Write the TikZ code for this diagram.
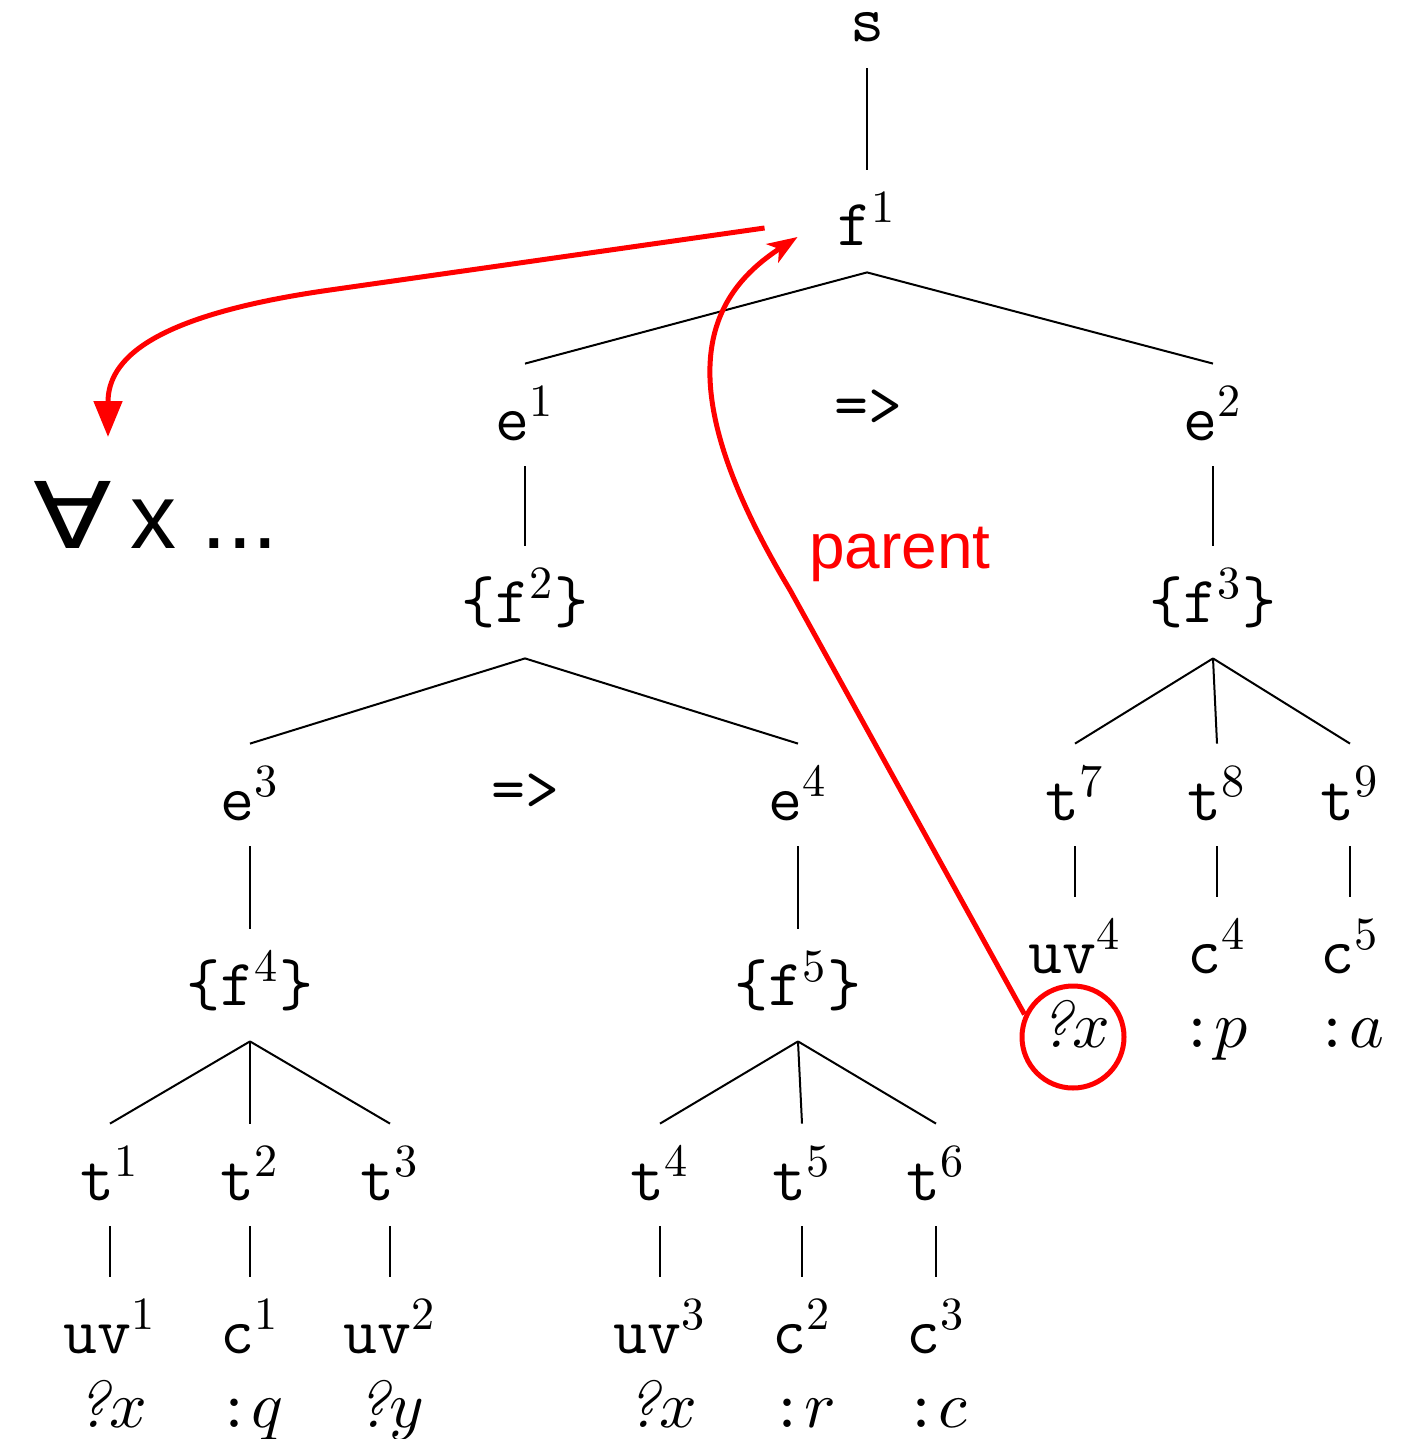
\documentclass[tikz,border=0pt]{standalone}
\usepackage{fontspec}
\usepackage{unicode-math}
\newfontfamily\sansA{Liberation Sans}
\newfontfamily\dvs{DejaVu Sans}
\usetikzlibrary{arrows.meta,calc}
\newcommand\qm{{\rmfamily\itshape ?}}
\begin{document}
\begin{tikzpicture}[x=0.5pt,y=-0.5pt,
  tn/.style={inner sep=0pt, text height=38pt, text depth=13pt, anchor=base,
    font=\fontsize{33}{40}\selectfont\ttfamily},
  tb/.style={tn, text depth=18pt},
  lf/.style={inner sep=0pt, anchor=base, font=\fontsize{33}{40}\selectfont\ttfamily},
  edge/.style={line width=1pt, black},
  redl/.style={red, line width=2.5pt}]
\useasboundingbox (0,0) rectangle (1414,1439);

% level nodes
\node[tn, text height=16pt] (s)  at (867,42)  {s};
\node[tn] (f1) at (867,246) {f$^{1}$};
\node[tn] (e1) at (525,440) {e$^{1}$};
\node[tn] (e2) at (1213,440) {e$^{2}$};
\node[lf, anchor=center] (imp1) at (868,408) {=>};
\node[tb] (f2) at (525,622) {\{f$^{2}$\}};
\node[tb] (f3) at (1213,622) {\{f$^{3}$\}};
\node[tn] (e3) at (250,820) {e$^{3}$};
\node[tn] (e4) at (798,820) {e$^{4}$};
\node[lf, anchor=center] (imp2) at (525,792) {=>};
\node[tb] (f4) at (250,1005) {\{f$^{4}$\}};
\node[tb] (f5) at (798,1005) {\{f$^{5}$\}};

\node[tn] (t1) at (110,1200) {t$^{1}$};
\node[tn] (t2) at (250,1200) {t$^{2}$};
\node[tn] (t3) at (390,1200) {t$^{3}$};
\node[tn] (t4) at (660,1200) {t$^{4}$};
\node[tn] (t5) at (802,1200) {t$^{5}$};
\node[tn] (t6) at (936,1200) {t$^{6}$};
\node[tn] (t7) at (1075,820) {t$^{7}$};
\node[tn] (t8) at (1217,820) {t$^{8}$};
\node[tn] (t9) at (1350,820) {t$^{9}$};

\node[tn] (uv1) at (110,1353) {uv$^{1}$};
\node[tn] (c1)  at (250,1353) {c$^{1}$};
\node[tn] (uv2) at (390,1353) {uv$^{2}$};
\node[tn] (uv3) at (660,1353) {uv$^{3}$};
\node[tn] (c2)  at (802,1353) {c$^{2}$};
\node[tn] (c3)  at (936,1353) {c$^{3}$};
\node[tn] (uv4) at (1075,973) {uv$^{4}$};
\node[tn] (c4)  at (1217,973) {c$^{4}$};
\node[tn] (c5)  at (1350,973) {c$^{5}$};

\node[lf] (v1) at (112,1427) {\qm$x$};
\node[lf] (v2) at (250,1427) {:$q$};
\node[lf] (v3) at (390,1427) {\qm$y$};
\node[lf] (v4) at (662,1427) {\qm$x$};
\node[lf] (v5) at (803,1427) {:$r$};
\node[lf] (v6) at (937,1427) {:$c$};
\node[lf] (v7) at (1075,1047) {\qm$x$};
\node[lf] (v8) at (1215,1047) {:$p$};
\node[lf] (v9) at (1350,1047) {:$a$};

% tree edges
\draw[edge] (s.south) -- (f1.north);
\draw[edge] (e1.north) -- (f1.south) -- (e2.north);
\draw[edge] (e1.south) -- (f2.north);
\draw[edge] (e2.south) -- (f3.north);
\draw[edge] (e3.north) -- (f2.south) -- (e4.north);
\draw[edge] (e3.south) -- (f4.north);
\draw[edge] (e4.south) -- (f5.north);
\draw[edge] (f4.south) -- (t1.north);
\draw[edge] (f4.south) -- (t2.north);
\draw[edge] (f4.south) -- (t3.north);
\draw[edge] (f5.south) -- (t4.north);
\draw[edge] (f5.south) -- (t5.north);
\draw[edge] (f5.south) -- (t6.north);
\draw[edge] (f3.south) -- (t7.north);
\draw[edge] (f3.south) -- (t8.north);
\draw[edge] (f3.south) -- (t9.north);
\draw[edge] (t1.south) -- (uv1.north);
\draw[edge] (t2.south) -- (c1.north);
\draw[edge] (t3.south) -- (uv2.north);
\draw[edge] (t4.south) -- (uv3.north);
\draw[edge] (t5.south) -- (c2.north);
\draw[edge] (t6.south) -- (c3.north);
\draw[edge] (t7.south) -- (uv4.north);
\draw[edge] (t8.south) -- (c4.north);
\draw[edge] (t9.south) -- (c5.north);

% red annotations
\node[font=\fontsize{46}{50}\selectfont\sansA, anchor=base west, inner sep=0pt] (fa) at (33,548) {\scalebox{1.25}[1]{\dvs ∀}\hspace{9pt}x ...};
\node[circle, draw=red, line width=2.5pt, minimum size=51pt, inner sep=0pt] (circ) at (1073,1037) {};
\node[font=\fontsize{32}{36}\selectfont\sansA, text=red, anchor=base, inner sep=0pt] (par) at (900,568) {parent};

\coordinate (startA) at ($(f1.west)+(-73,7)$);
\coordinate (tipA) at (108,437);
\coordinate (tipB) at ($(f1.west)+(-40,16)$);
\draw[redl, -{Triangle[width=14pt,length=18pt]}] (startA) -- (330,290) .. controls (150,315.6) and (108,360) .. (tipA);
\draw[redl, -{Stealth[width=11pt,length=15pt,inset=4pt]}] (circ.155) -- (790,590) .. controls (670,390) and (700,300) .. (tipB);
\end{tikzpicture}
\end{document}
